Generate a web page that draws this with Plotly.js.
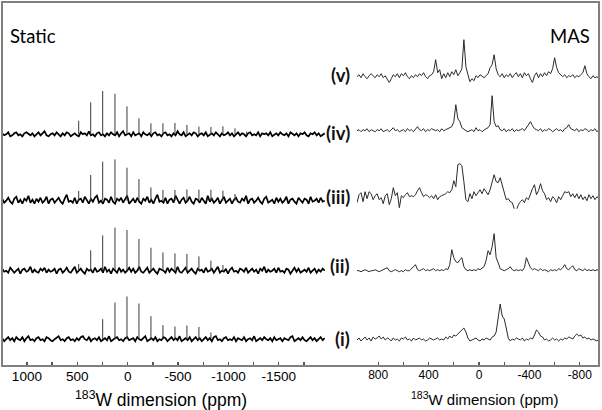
<!DOCTYPE html>
<html>
<head>
<meta charset="utf-8">
<script src="https://cdn.plot.ly/plotly-3.0.1.min.js"></script>
<style>html,body{margin:0;padding:0;background:#fff;}#chart{width:602px;height:410px;}</style>
</head>
<body>
<div id="chart"></div>
<script>
// ---------- DATA ----------
// Static spectra: uniform ppm sampling grid (start, step) and baseline intensities
const staticPpmStart = 1245;
const staticPpmStep = -20;
const staticNoise_iv = [1,-1,0,2,-2,-1,1,2,-1,0, -2,1,2,0,-1,1,-2,0,2,-1, 1,3,-1,-2,0,1,-1,2,0,-2, 1,-1,2,1,-2,0,1,-1,-2,2, 0,1,-1,3,-1,0,-2,1,2,-1, 0,-2,1,-1,2,0,-1,2,-2,1, 3,-1,0,1,-2,2,-1,0,1,-2, 2,0,-1,1,-2,1,2,-1,0,-2, 1,2,-1,0,-2,1,-1,3,0,-1, 2,-2,0,1,-1,2,1,-2,0,1, -1,2,-2,0,1,-1,2,0,-2,1, -1,0,2,-1,1,-2,0,2,-1,1, 0,-2,1,2,-1,0,-1,2,-2,1, 0,1,-1,2,-2,0,1,-1,2,0, -1,1,-2,2,0,-1,1,-2,1,0, 2,-1,-2,1,0,2,-1,1,-2,0, 1];
const staticNoise_iii = [2,-2,0,3,-1,-3,2,4,-2,1, -3,2,0,5,-2,1,-3,2,-1,3, -2,0,4,-3,1,2,-2,0,3,-1, -3,2,6,-1,0,-2,3,-3,1,2, -2,4,0,-3,2,-1,3,5,-2,0, -3,2,1,-2,4,-1,-3,2,0,3, -2,1,5,-3,0,2,-2,3,-1,-3, 2,0,4,-2,1,-3,2,6,-1,0, -2,3,-3,1,2,-2,5,0,-3,1, 3,-2,0,4,-1,-3,2,1,-2,3, 0,-3,5,-1,2,-2,0,3,-3,1, 4,-2,0,2,-3,1,3,-1,-2,2, 0,5,-3,1,2,-2,0,3,-1,-3, 2,4,-2,0,1,-3,3,-1,2,-2, 0,4,-3,1,2,-1,-3,3,0,-2, 2,1,-3,4,-1,0,2,-2,3,-1, 0];
const staticNoise_ii = [2,-1,0,-2,3,1,-2,0,2,-3, 1,2,-1,0,4,-2,1,-1,-2,2, 0,3,-2,1,-1,0,2,-3,1,2, -2,0,3,-1,-2,1,4,-2,0,2, -1,-3,2,0,1,-2,3,-1,0,2, -2,4,-1,1,-3,2,0,-2,3,-1, 1,-2,0,3,-1,2,-2,0,4,-1, -2,1,3,-2,0,2,-1,-3,2,1, 0,-2,3,-1,2,0,-2,4,-1,-2, 1,3,-2,0,2,-1,-3,2,0,1, -2,3,-1,0,2,-2,1,4,-2,0, -1,2,-3,1,3,-1,0,-2,2,1, -1,3,-2,0,2,-1,1,-3,2,0, 4,-2,1,-1,0,2,-2,3,-1,0, -2,2,1,-3,0,3,-1,2,-2,0, 1,-1,3,-2,0,2,-2,1,-1,2, 0];
const staticNoise_i = [1,-2,0,2,-1,1,-2,2,0,-1, 2,-2,1,3,-1,0,-2,1,2,-1, 0,-2,2,1,-1,-2,0,2,3,-1, 0,-2,1,2,-1,0,-2,1,-1,2, 3,0,-1,2,-2,0,1,-1,2,-2, 0,1,-1,3,-2,0,1,2,-1,0, -2,1,2,-1,0,1,-2,2,0,-1, 1,3,-2,0,1,-1,2,-2,0,-1, 2,1,-2,0,2,-1,1,-1,3,-2, 0,1,-1,2,-2,0,2,-1,1,-2, 0,2,-1,1,-2,2,3,-1,0,-2, 1,2,-1,0,-1,2,-2,1,0,-1, 2,-2,0,1,-1,3,-2,0,1,-1, 2,0,-1,1,-2,2,-1,0,1,-2, 1,0,-1,2,3,-2,0,1,-1,2, -1,-2,0,2,-1,1,-2,0,2,-1, 1];
// Spinning sideband positions (ppm) and heights per static spectrum
const sidebandPpm = [486, 367, 248, 126, 7, -112, -231, -350, -469, -588, -707, -826, -945, -1065, -1181];
const sideband_iv  = [13.6, 32, 43.3, 40.6, 28, 16, 11, 11, 11.3, 9.3, 7.7, 7.3, 8, 6, 2.7];
const sideband_iii = [9.7, 25.7, 39, 41.3, 33, 21.7, 13.3, 10.7, 10.7, 11.3, 11, 11, 10, 6.7, 0];
const sideband_ii  = [6.7, 20.3, 35.3, 43, 40.7, 31.7, 23, 18.3, 17.3, 16.7, 14.3, 10, 5.7, 0, 0];
const sideband_i   = [0, 1.5, 20, 36.7, 42.7, 35.7, 23, 14, 12.7, 13.7, 12.3, 6.7, 0, 0, 0];

// MAS spectra: uniform ppm sampling grid and intensities
const masPpmStart = 968;
const masPpmStep = -16;
const mas_v = [0,2,-1,3,0,-2,1,3,1,-1, 2,0,3,-1,1,-2,-6,-2,2,0, 3,-1,3,1,4,0,-2,1,-1,2, 0,3,1,4,0,-2,1,2,5,17, 4,7,-2,3,-1,4,0,5,2,7, 1,4,8,37,10,2,-5,-2,-4,1, -1,2,0,-1,1,3,9,12,22,8, 2,0,3,-1,2,0,3,-1,2,4, 0,3,-1,4,1,3,-2,-6,1,4, -1,3,0,4,1,5,3,8,19,9, 4,2,0,2,-1,1,0,2,-1,1, 0,2,4,11,3,0,-2,1,-1,0,-2];
const mas_iv = [0,1,-1,1,0,2,-1,1,0,-1, 1,0,2,-1,0,1,-1,1,3,0, 1,-1,0,1,-1,2,0,1,-1,2, 4,1,0,2,-1,1,0,2,1,0, 1,-1,2,0,1,2,3,4,9,26, 12,9,3,1,0,-1,0,1,-1,3, 0,1,-1,1,2,3,6,35,9,4, 5,1,0,2,-1,1,0,2,-1,1, 0,1,2,0,3,5,9,5,2,1, 0,2,-1,1,0,2,1,-1,1,2, 0,1,-1,2,3,6,2,1,0,2, -1,1,0,2,1,-1,1,0,2,-1,1];
const mas_iii = [-6,2,4,-5,5,-2,5,3,-3,1, 3,-3,-1,-7,1,3,-8,-2,9,1, 4,-11,1,-1,2,4,0,1,0,2, 6,9,4,0,2,1,-1,1,-2,2, -3,0,1,2,3,5,4,7,16,10, 32,33,31,15,-3,-5,3,-2,5,1, 4,7,3,8,5,2,7,16,22,15, 14,19,11,3,-3,-2,-5,-6,-12,-14, -8,-5,-3,-6,-1,-3,3,8,12,2, 6,13,6,3,-3,-1,-5,0,-2,-6, 0,-3,1,5,4,5,0,3,-1,3, -2,2,-3,0,-4,2,-2,1,-3,0,-2];
const mas_ii = [0,0,-1,0,1,0,-1,0,0,1, 0,-1,0,1,2,3,0,-1,0,1, 0,-1,0,-1,1,0,0,2,3,6, 1,0,1,2,0,1,0,1,2,0, 1,0,1,0,2,1,6,21,13,9, 8,11,13,4,1,0,1,0,1,0, 2,1,3,4,10,20,16,24,37,13, 8,2,1,0,1,2,4,1,0,1, 0,1,0,3,13,8,3,1,2,1, 0,2,0,1,0,-1,1,0,1,0, 2,1,3,6,2,1,3,5,1,0, 2,1,0,2,0,1,0,1,0,1,0];
const mas_i = [0,2,-1,1,3,0,2,-1,3,1, 2,4,1,3,0,2,1,-1,2,0, 1,-1,2,1,3,0,1,-1,2,0, 1,2,0,1,-1,0,2,1,0,1, 2,0,1,0,3,1,4,2,5,4, 6,9,11,12,8,2,-1,0,1,2, 0,-1,1,0,2,1,0,3,4,8, 20,36,24,21,12,2,-1,1,0,2, 1,0,2,-1,1,0,2,1,5,10, 8,4,3,0,1,-1,0,2,0,1, -1,1,0,2,1,3,2,1,4,6, 4,5,2,3,1,2,0,1,0,-1,1];

const rowLabels = ['(v)', '(iv)', '(iii)', '(ii)', '(i)'];
const staticTickVals = [1000, 500, 0, -500, -1000, -1500];
const staticTickText = ['1000', '500', '0', '-500', '-1000', '-1500'];
const staticMinorTicks = [750, 250, -250, -750, -1250, -1750];
const masTickVals = [800, 400, 0, -400, -800];
const masTickText = ['800', '400', '0', '-400', '-800'];
const masMinorTicks = [600, 200, -200, -600];
const axisTitle = '<sup>183</sup>W dimension (ppm)';

// ---------- LAYOUT GEOMETRY ----------
const W = 602, H = 410;
const M = {l: 2, r: 3, t: 2, b: 44};
const plotW = W - M.l - M.r, plotH = H - M.t - M.b;
const pxX = px => (px - M.l) / plotW;           // page px -> paper x
const pxY = py => (H - M.b - py) / plotH;        // page px -> paper y
const yLo = -12, yHi = 48;
function rowDomain(basePx) {
  const b = pxY(basePx - yLo);
  return [b, b + (yHi - yLo) / plotH];
}

function grid(start, step, n) { const a = []; for (let i = 0; i < n; i++) a.push(start + step * i); return a; }

const traces = [];
const staticRows = [
  {noise: staticNoise_iv, sb: sideband_iv, ax: 'y', base: 134.3},
  {noise: staticNoise_iii, sb: sideband_iii, ax: 'y2', base: 200.7},
  {noise: staticNoise_ii, sb: sideband_ii, ax: 'y3', base: 270.7},
  {noise: staticNoise_i, sb: sideband_i, ax: 'y4', base: 339.2}
];
staticRows.forEach(r => {
  traces.push({x: grid(staticPpmStart, staticPpmStep, r.noise.length), y: r.noise, xaxis: 'x', yaxis: r.ax,
    mode: 'lines', line: {color: '#000', width: 1.7}, hoverinfo: 'skip'});
  const sx = [], sy = [];
  sidebandPpm.forEach((p, k) => { if (r.sb[k] > 0) { sx.push(p, p, null); sy.push(0, r.sb[k], null); } });
  traces.push({x: sx, y: sy, xaxis: 'x', yaxis: r.ax, mode: 'lines', line: {color: '#3a3a3a', width: 1}, hoverinfo: 'skip'});
});
const masRows = [
  {d: mas_v, ax: 'y5', base: 76.7},
  {d: mas_iv, ax: 'y6', base: 130.7},
  {d: mas_iii, ax: 'y7', base: 196.7},
  {d: mas_ii, ax: 'y8', base: 270.7},
  {d: mas_i, ax: 'y9', base: 340}
];
masRows.forEach(r => {
  traces.push({x: grid(masPpmStart, masPpmStep, r.d.length), y: r.d, xaxis: 'x2', yaxis: r.ax,
    mode: 'lines', line: {color: '#2a2a2a', width: 1}, hoverinfo: 'skip'});
});

const tickFont = {family: 'Liberation Sans, Arial, sans-serif', color: '#000'};
const layout = {
  width: W, height: H, margin: M, showlegend: false,
  paper_bgcolor: '#fff', plot_bgcolor: '#fff',
  xaxis: {domain: [0, pxX(325)], range: [1247, -1958], anchor: 'free', position: 0,
    tickvals: staticTickVals, ticktext: staticTickText, ticks: 'inside', ticklen: 4, tickwidth: 1.3, tickcolor: '#555',
    minor: {tickvals: staticMinorTicks, ticks: 'inside', ticklen: 4, tickwidth: 1.3, tickcolor: '#555', showgrid: false},
    showgrid: false, zeroline: false, showline: false, tickfont: Object.assign({size: 13.5}, tickFont)},
  xaxis2: {domain: [pxX(357), 1], range: [968, -952], anchor: 'free', position: 0,
    tickvals: masTickVals, ticktext: masTickText, ticks: 'inside', ticklen: 4, tickwidth: 1.3, tickcolor: '#555',
    minor: {tickvals: masMinorTicks, ticks: 'inside', ticklen: 4, tickwidth: 1.3, tickcolor: '#555', showgrid: false},
    showgrid: false, zeroline: false, showline: false, tickfont: Object.assign({size: 12}, tickFont)},
  shapes: [{type: 'rect', xref: 'paper', yref: 'paper', x0: 0, x1: 1, y0: 0, y1: 1, line: {color: '#808080', width: 2}}],
  annotations: []
};
staticRows.concat(masRows).forEach((r, k) => {
  const key = 'yaxis' + (k === 0 ? '' : (k + 1));
  layout[key] = {domain: rowDomain(r.base), range: [yLo, yHi], visible: false, anchor: 'free', position: 0, fixedrange: true};
});

const labelFont = {family: 'Lato, Carlito, sans-serif', size: 18.5, color: '#111'};
const labelY = [75, 133, 197, 266, 339];
rowLabels.forEach((t, k) => {
  layout.annotations.push({text: '<b>' + t + '</b>', xref: 'paper', yref: 'paper', x: pxX(352), y: pxY(labelY[k]),
    xanchor: 'right', yanchor: 'middle', showarrow: false, font: labelFont});
});
layout.annotations.push({text: 'Static', xref: 'paper', yref: 'paper', x: pxX(8), y: pxY(36), xanchor: 'left', yanchor: 'middle',
  showarrow: false, font: {family: 'Lato, sans-serif', size: 18.5, color: '#000'}});
layout.annotations.push({text: 'MAS', xref: 'paper', yref: 'paper', x: pxX(592), y: pxY(36), xanchor: 'right', yanchor: 'middle',
  showarrow: false, font: {family: 'Lato, sans-serif', size: 18.5, color: '#000'}});
layout.annotations.push({text: axisTitle, xref: 'paper', yref: 'paper', x: pxX(161), y: pxY(399), xanchor: 'center', yanchor: 'middle',
  showarrow: false, font: Object.assign({size: 17.5}, tickFont)});
layout.annotations.push({text: axisTitle, xref: 'paper', yref: 'paper', x: pxX(485), y: pxY(399), xanchor: 'center', yanchor: 'middle',
  showarrow: false, font: Object.assign({size: 15}, tickFont)});

Plotly.newPlot('chart', traces, layout, {staticPlot: true, displayModeBar: false});
</script>
</body>
</html>
